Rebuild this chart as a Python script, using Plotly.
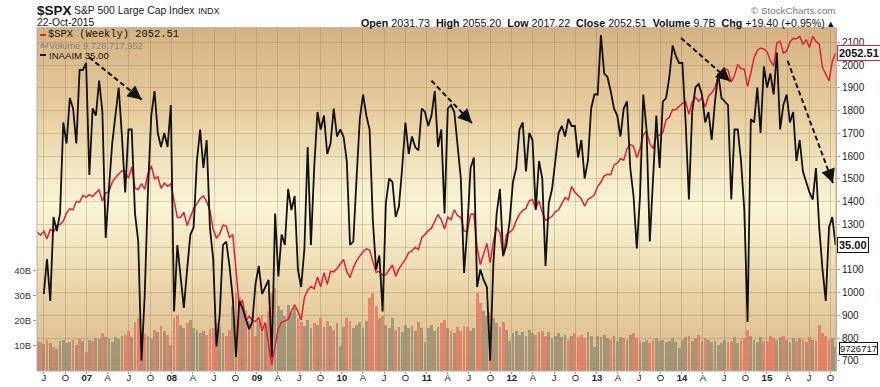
import plotly.graph_objects as go
import pandas as pd

# ---------------- data (bi-weekly closes) ----------------
spx_close = [
    1265, 1252, 1270, 1236, 1278, 1266, 1296, 1299, 1314, 1350, 1368, 1364, 1401, 1397, 1427, 1418,
    1430, 1422, 1438, 1451, 1402, 1437, 1443, 1484, 1505, 1522, 1536, 1532, 1503, 1552, 1459, 1453,
    1479, 1454, 1525, 1557, 1500, 1509, 1458, 1481, 1467, 1478,
    1401, 1330, 1331, 1353, 1294, 1330, 1370, 1390, 1413, 1425, 1400, 1360, 1278, 1239, 1257, 1296,
    1292, 1242, 1255, 1099, 940, 968, 873, 896, 879, 872,
    890, 832, 869, 770, 683, 768, 842, 869, 877, 882, 919, 946, 918, 879, 979, 1010,
    1026, 1016, 1068, 1025, 1087, 1036, 1093, 1091, 1106, 1126,
    1145, 1092, 1066, 1109, 1139, 1160, 1179, 1192, 1187, 1136, 1089, 1092, 1076, 1078, 1102, 1121,
    1071, 1104, 1126, 1146, 1176, 1183, 1199, 1189, 1240, 1257,
    1272, 1283, 1310, 1343, 1321, 1279, 1332, 1320, 1364, 1338, 1331, 1271, 1268, 1344, 1345, 1199,
    1123, 1174, 1216, 1131, 1225, 1285, 1264, 1159, 1255, 1265,
    1278, 1315, 1345, 1361, 1370, 1404, 1408, 1370, 1403, 1353, 1318, 1325, 1335, 1355, 1363, 1391,
    1418, 1407, 1466, 1441, 1428, 1411, 1380, 1409, 1418, 1430,
    1466, 1486, 1513, 1520, 1518, 1561, 1569, 1588, 1582, 1633, 1650, 1643, 1593, 1632, 1692, 1709,
    1655, 1633, 1688, 1692, 1703, 1759, 1770, 1804, 1805, 1818,
    1832, 1839, 1783, 1838, 1859, 1841, 1857, 1815, 1863, 1878, 1901, 1950, 1962, 1985, 1978, 1925,
    1955, 2003, 1985, 1982, 1906, 1965, 2032, 2064, 2075, 2071,
    2058, 2019, 1995, 2097, 2104, 2053, 2061, 2102, 2117, 2116, 2126, 2092, 2110, 2077, 2127, 2104,
    2092, 1989, 1961, 1931, 2015, 2052.51,
]

naaim_exposure = [
    None, None, 21, 31, 19, 43, 39, 44, 70, 64, 77, 74, 64, 85, 85, 87,
    55, 74, 72, 82, 73, 37, 51, 64, 72, 80, 66, 50, 68, 68, 44, 36, 2, 21, 51, 72, 79, 67, 63, 67, 63, 75,
    16, 35, 26, 17, 28, 38, 40, 59, 68, 57, 65, 40, 31, 6, 15, 35, 36, 29, 20, 3, 19, 17, 14, 11, 13, 24,
    29, 21, 23, 25, 3, 44, 26, 38, 35, 51, 45, 49, 28, 23, 34, 63, 35, 57, 73, 68, 72, 61, 64, 74, 66, 68,
    66, 59, 35, 36, 54, 71, 78, 72, 68, 42, 28, 32, 16, 47, 54, 53, 43, 46, 57, 70, 61, 66, 63, 62, 74, 73,
    69, 72, 79, 63, 68, 44, 74, 75, 73, 64, 54, 27, 40, 57, 60, 23, 28, 25, 23, 2, 30, 44, 51, 32, 35, 42,
    53, 57, 68, 70, 56, 67, 65, 45, 59, 54, 29, 47, 51, 59, 67, 69, 66, 71, 69, 69, 60, 65, 54, 59, 74, 78,
    78, 95, 84, 83, 79, 74, 72, 66, 74, 76, 57, 49, 34, 49, 78, 68, 36, 54, 72, 57, 76, 77, 83, 92, 89, 87,
    87, 70, 48, 73, 80, 81, 78, 70, 73, 65, 76, 84, 77, 76, 75, 48, 68, 68, 59, 45, 13, 71, 70, 80, 67, 86,
    80, 84, 78, 90, 68, 75, 78, 70, 73, 59, 65, 56, 53, 50, 48, 57, 40, 28, 19, 40, 43, 35.00,
]

volume_bn = [
    12.0, 11.5, 10.8, 12.5, 11.0, 9.5, 8.8, 11.8, 12.2, 11.0, 11.6, 12.4, 10.5, 12.8, 11.9, 7.5,
    12.5, 11.8, 13.2, 12.6, 15.0, 13.5, 12.8, 11.4, 13.6, 12.9, 13.8, 14.2, 16.0, 13.6, 19.5, 21.0,
    15.5, 14.8, 13.9, 12.6, 16.2, 15.5, 17.8, 16.0, 14.2, 10.5,
    21.0, 22.5, 18.5, 17.0, 19.0, 20.5, 17.0, 16.2, 15.0, 15.8, 14.5, 16.6, 17.2, 19.0, 17.5, 15.0,
    14.0, 16.5, 26.0, 31.0, 29.5, 26.0, 24.5, 20.0, 21.5, 14.0,
    20.0, 22.5, 18.0, 24.0, 31.0, 33.0, 26.0, 24.5, 22.0, 26.5, 23.0, 25.0, 21.0, 19.5, 18.0, 20.5,
    17.0, 19.0, 18.5, 21.0, 17.5, 20.0, 18.0, 16.5, 19.0, 10.0,
    17.5, 21.0, 20.0, 17.0, 18.5, 19.5, 17.0, 20.0, 29.0, 31.0, 26.0, 21.0, 22.0, 18.5, 17.0, 21.0,
    16.5, 17.5, 15.5, 18.5, 17.0, 18.0, 16.0, 19.5, 17.0, 11.5,
    17.0, 18.5, 16.0, 17.5, 19.0, 20.5, 17.0, 16.0, 15.0, 17.5, 16.0, 18.0, 17.5, 16.0, 17.0, 31.0,
    27.0, 24.0, 22.0, 23.5, 21.0, 19.0, 17.5, 19.5, 16.5, 12.0,
    15.0, 16.0, 14.5, 15.5, 14.0, 16.5, 15.0, 14.5, 15.5, 16.0, 14.0, 15.5, 13.0, 14.0, 15.0, 13.5,
    14.5, 12.5, 14.0, 15.0, 13.5, 14.5, 13.0, 15.5, 14.0, 9.5,
    14.0, 13.5, 14.5, 13.0, 12.5, 14.0, 12.0, 13.5, 13.0, 12.5, 14.5, 15.0, 13.0, 12.0, 11.5, 12.5,
    11.0, 12.5, 13.0, 12.0, 12.5, 11.5, 12.0, 13.0, 11.5, 9.0,
    12.5, 13.5, 14.0, 12.0, 13.0, 14.5, 12.0, 13.0, 12.5, 11.5, 12.0, 10.5, 11.0, 12.5, 11.5, 12.0,
    13.5, 11.0, 12.5, 13.0, 16.5, 14.0, 12.5, 11.5, 13.5, 12.0,
    12.0, 14.0, 13.0, 12.5, 13.5, 14.0, 12.5, 11.5, 13.0, 12.0, 13.0, 12.5, 11.5, 13.5, 12.5, 12.0,
    18.5, 15.0, 14.0, 12.5, 13.0, 9.73,
]

tick_dates = [
    '2006-07-01', '2006-10-01',
    '2007-01-01', '2007-04-01', '2007-07-01', '2007-10-01',
    '2008-01-01', '2008-04-01', '2008-07-01', '2008-10-01',
    '2009-01-01', '2009-04-01', '2009-07-01', '2009-10-01',
    '2010-01-01', '2010-04-01', '2010-07-01', '2010-10-01',
    '2011-01-01', '2011-04-01', '2011-07-01', '2011-10-01',
    '2012-01-01', '2012-04-01', '2012-07-01', '2012-10-01',
    '2013-01-01', '2013-04-01', '2013-07-01', '2013-10-01',
    '2014-01-01', '2014-04-01', '2014-07-01', '2014-10-01',
    '2015-01-01', '2015-04-01', '2015-07-01', '2015-10-01',
]
tick_labels = ['J', 'O', '07', 'A', 'J', 'O', '08', 'A', 'J', 'O', '09', 'A', 'J', 'O',
               '10', 'A', 'J', 'O', '11', 'A', 'J', 'O', '12', 'A', 'J', 'O', '13', 'A',
               'J', 'O', '14', 'A', 'J', 'O', '15', 'A', 'J', 'O']
price_ticks = [700, 800, 900, 1000, 1100, 1200, 1300, 1400, 1500, 1600, 1700, 1800, 1900, 2000, 2100]
# the 1200 label is hidden behind the NAAIM value tag in the original
price_tick_labels = ['700', '800', '900', '1000', '1100', '', '1300', '1400', '1500', '1600',
                     '1700', '1800', '1900', '2000', '2100']
vol_ticks = [10, 20, 30, 40]
vol_tick_labels = ['10B', '20B', '30B', '40B']

# annotation arrows: (start date, start price, end date, end price)
trend_arrows = [
    ('2007-01-11', 2034, '2007-08-25', 1848),
    ('2011-01-21', 1931, '2011-07-14', 1745),
    ('2013-12-28', 2119, '2014-07-27', 1929),
    ('2015-03-31', 2019, '2015-10-12', 1481),
]
# ---------------------------------------------------------------------------

n = len(spx_close)
assert len(naaim_exposure) == n and len(volume_bn) == n
weeks = pd.date_range(end='2015-10-23', periods=n, freq='14D')

W, H = 880, 387
L, R, T, B = 37, 44, 28, 16
PW, PH = W - L - R, H - T - B


def px(x):
    return (x - L) / PW


def py(y):
    return (H - B - y) / PH


RED = '#E0203A'
vol_colors = []
for i in range(n):
    down = i > 0 and spx_close[i] < spx_close[i - 1]
    vol_colors.append('rgba(228,112,92,0.75)' if down else 'rgba(145,136,110,0.75)')

fig = go.Figure()
fig.add_trace(go.Bar(x=weeks, y=volume_bn, yaxis='y', width=12 * 86400000,
                     marker=dict(color=vol_colors, line=dict(width=0)), hoverinfo='skip'))
fig.add_trace(go.Scatter(x=weeks, y=spx_close, yaxis='y2', mode='lines',
                         line=dict(color=RED, width=1.5)))
fig.add_trace(go.Scatter(x=weeks, y=naaim_exposure, yaxis='y3', mode='lines',
                         line=dict(color='#111111', width=1.8), connectgaps=False))

# background gradient (tan -> cream -> tan)
stops = [(0.0, (214, 184, 138)), (0.236, (234, 212, 168)), (0.484, (250, 246, 214)),
         (0.76, (230, 205, 158)), (1.0, (213, 178, 130))]


def grad(t):
    for (t0, c0), (t1, c1) in zip(stops[:-1], stops[1:]):
        if t0 <= t <= t1:
            f = (t - t0) / (t1 - t0)
            return 'rgb(%d,%d,%d)' % tuple(round(a + (b - a) * f) for a, b in zip(c0, c1))
    return 'rgb(%d,%d,%d)' % stops[-1][1]


shapes = []
NB = 70
for k in range(NB):
    t0, t1 = k / NB, (k + 1) / NB
    shapes.append(dict(type='rect', xref='paper', yref='paper', x0=0, x1=1, y0=t0, y1=t1 + 0.002,
                       fillcolor=grad((t0 + t1) / 2), line=dict(width=0), layer='below'))
# plot frame
shapes.append(dict(type='rect', xref='paper', yref='paper', x0=0, x1=1, y0=0, y1=1,
                   line=dict(color='#b8aaa6', width=1), layer='above'))
# legend markers
shapes.append(dict(type='line', xref='paper', yref='paper', x0=px(40), x1=px(46), y0=py(35), y1=py(35),
                   line=dict(color=RED, width=2)))
shapes.append(dict(type='line', xref='paper', yref='paper', x0=px(40), x1=px(46), y0=py(55), y1=py(55),
                   line=dict(color='#111', width=2)))
for bx, bh in [(40.5, 4), (42.5, 6), (44.5, 3), (46.5, 5)]:
    shapes.append(dict(type='rect', xref='paper', yref='paper', x0=px(bx), x1=px(bx + 1.2),
                       y0=py(48), y1=py(48 - bh), fillcolor='#888', line=dict(width=0)))

annotations = []
# dashed trend arrows
head_dirs = [(0.78, 0.627), (0.693, 0.72), (0.749, 0.662), (0.347, 0.938)]
for (d0, p0, d1, p1), (ux, uy) in zip(trend_arrows, head_dirs):
    shapes.append(dict(type='line', xref='x', yref='y2', x0=d0, y0=p0, x1=d1, y1=p1,
                       line=dict(color='#111', width=2, dash='5px,3px'), layer='above'))
    annotations.append(dict(x=d1, y=p1, xref='x', yref='y2', text='', showarrow=True,
                            ax=-ux * 12, ay=-uy * 12, arrowhead=2, arrowsize=1.4, arrowwidth=2,
                            arrowcolor='#111'))

FONT = 'Liberation Sans, Arial, sans-serif'


def ptxt(text, x, y, size=11, color='#111', xanchor='left', family=FONT, **kw):
    annotations.append(dict(text=text, x=px(x), y=py(y), xref='paper', yref='paper',
                            xanchor=xanchor, yanchor='middle', showarrow=False,
                            font=dict(size=size, color=color, family=family), **kw))


ptxt('<b>$SPX</b>', 35, 10, size=13.5, color='#111')
ptxt('S&amp;P 500 Large Cap Index', 72, 10.5, size=10.4, color='#222')
ptxt('INDX', 196, 11, size=9, color='#222')
ptxt('22-Oct-2015', 35, 22.5, size=10.3, color='#111')
ptxt('© StockCharts.com', 838, 10, size=9.8, color='#777', xanchor='right')
ptxt('<b>Open</b> 2031.73  <b>High</b> 2055.20  <b>Low</b> 2017.22  <b>Close</b> 2052.51  '
     '<b>Volume</b> 9.7B  <b>Chg</b> +19.40 (+0.95%) ▴', 836, 23, size=10.7, color='#111',
     xanchor='right')
ptxt('$SPX (Weekly) 2052.51', 46, 34.5, size=10.4, color='#111',
     family='Liberation Mono, DejaVu Sans Mono, monospace')
ptxt('Volume 9,726,717,952', 47, 45.3, size=9.4, color='#8a8580')
ptxt('!NAAIM 35.00', 47, 55.5, size=9.6, color='#111')

# right-side value tags
annotations.append(dict(text='<b>2052.51</b>', x=1, xref='paper', y=spx_close[-1], yref='y2',
                        xanchor='left', xshift=1, showarrow=False, bgcolor='white',
                        bordercolor=RED, borderwidth=1, borderpad=1,
                        font=dict(size=11, color='#111', family=FONT)))
annotations.append(dict(text='<b>35.00</b>', x=1, xref='paper', y=naaim_exposure[-1], yref='y3',
                        xanchor='left', xshift=1, showarrow=False, bgcolor='white',
                        bordercolor='#111', borderwidth=1, borderpad=1,
                        font=dict(size=11, color='#111', family=FONT)))
annotations.append(dict(text='9726717', x=1, xref='paper', y=volume_bn[-1], yref='y',
                        xanchor='left', xshift=3, yshift=-2, showarrow=False, bgcolor='white',
                        bordercolor='#111', borderwidth=1, borderpad=0,
                        font=dict(size=9.5, color='#111', family=FONT)))

GRID = 'rgba(150,118,80,0.30)'
fig.update_layout(
    width=W, height=H, margin=dict(l=L, r=R, t=T, b=B, autoexpand=False),
    paper_bgcolor='white', plot_bgcolor='rgba(0,0,0,0)', showlegend=False, bargap=0,
    font=dict(family=FONT),
    xaxis=dict(type='date', range=['2006-06-01', '2015-10-25'], tickvals=tick_dates,
               ticktext=[('<b>%s</b>' % t) if t.isdigit() else t for t in tick_labels],
               tickangle=0, showgrid=True, gridcolor=GRID, gridwidth=1, ticks='outside',
               ticklen=2, tickcolor='#999', tickfont=dict(size=9.5, color='#222', family=FONT),
               ticklabelstandoff=-4,
               showline=False, zeroline=False, automargin=False),
    yaxis=dict(range=[0, 137], tickvals=vol_ticks, ticktext=vol_tick_labels, showgrid=False,
               zeroline=False, ticks='outside', ticklen=3, tickcolor='#999', side='left',
               tickfont=dict(size=9.5, color='#333', family=FONT), showline=False,
               automargin=False),
    yaxis2=dict(overlaying='y', side='right', range=[655, 2163], tickvals=price_ticks,
                ticktext=price_tick_labels,
                showgrid=True, gridcolor=GRID, gridwidth=1, ticks='outside', ticklen=3,
                tickcolor='#c9a0a0', tickfont=dict(size=10, color='#222', family=FONT),
                zeroline=False, showline=True, linecolor='#d8a8a8', linewidth=1,
                automargin=False),
    yaxis3=dict(overlaying='y', range=[-1, 97], visible=False),
    shapes=shapes, annotations=annotations,
)

fig.write_html('out.html', config={'displayModeBar': False},
               post_script="document.body.style.margin='0';")
